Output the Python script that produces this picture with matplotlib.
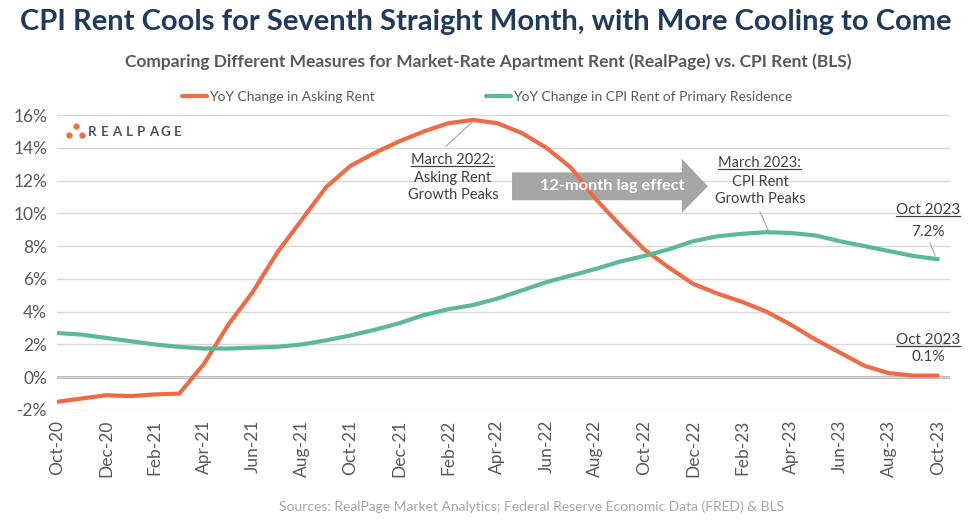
import matplotlib

matplotlib.use("Agg")
import matplotlib.pyplot as plt
from matplotlib.lines import Line2D
from matplotlib.patches import Polygon

plt.rcParams["font.family"] = ["Lato", "DejaVu Sans"]

# monthly data, Oct-2020 .. Oct-2023
months = [
    "Oct-20", "Nov-20", "Dec-20", "Jan-21", "Feb-21", "Mar-21", "Apr-21", "May-21",
    "Jun-21", "Jul-21", "Aug-21", "Sep-21", "Oct-21", "Nov-21", "Dec-21", "Jan-22",
    "Feb-22", "Mar-22", "Apr-22", "May-22", "Jun-22", "Jul-22", "Aug-22", "Sep-22",
    "Oct-22", "Nov-22", "Dec-22", "Jan-23", "Feb-23", "Mar-23", "Apr-23", "May-23",
    "Jun-23", "Jul-23", "Aug-23", "Sep-23", "Oct-23",
]
asking_rent = [
    -1.5, -1.3, -1.1, -1.15, -1.05, -1.0, 0.8, 3.2, 5.2, 7.6, 9.6, 11.6, 12.9,
    13.7, 14.4, 15.0, 15.5, 15.7, 15.5, 14.9, 14.0, 12.8, 10.9, 9.3, 7.8, 6.7,
    5.7, 5.1, 4.6, 4.0, 3.2, 2.3, 1.5, 0.7, 0.25, 0.1, 0.1,
]
cpi_rent = [
    2.7, 2.6, 2.4, 2.2, 2.0, 1.85, 1.75, 1.75, 1.8, 1.85, 2.0, 2.25, 2.55, 2.9,
    3.3, 3.8, 4.15, 4.4, 4.8, 5.3, 5.8, 6.2, 6.6, 7.05, 7.4, 7.8, 8.3, 8.6, 8.75,
    8.85, 8.8, 8.65, 8.3, 8.0, 7.7, 7.4, 7.2,
]
y_ticks = [-2, 0, 2, 4, 6, 8, 10, 12, 14, 16]

ORANGE = "#ef6b45"
GREEN = "#5cb998"
NAVY = "#1f3a5c"
GRAY_TEXT = "#595959"
ANNOT = "#404040"

fig = plt.figure(figsize=(9.77, 5.25), dpi=100)
ax = fig.add_axes([57 / 977, 1 - 410 / 525, (950 - 57) / 977, (410 - 115) / 525])

x = list(range(len(months)))
ax.plot(x, asking_rent, color=ORANGE, lw=3.0, solid_joinstyle="round", solid_capstyle="round",
        label="YoY Change in Asking Rent", zorder=4)
ax.plot(x, cpi_rent, color=GREEN, lw=3.0, solid_joinstyle="round", solid_capstyle="round",
        label="YoY Change in CPI Rent of Primary Residence", zorder=4)

ax.set_xlim(0, len(months) - 0.5)
ax.set_ylim(-2, 16)
ax.set_yticks(y_ticks)
ax.set_yticklabels([f"{v}%" for v in y_ticks])
ax.set_xticks(x[::2])
ax.set_xticklabels(months[::2], rotation=90)
ax.tick_params(length=0, labelsize=12.5, labelcolor=GRAY_TEXT)
ax.tick_params(axis="y", pad=7)
ax.tick_params(axis="x", pad=7)
for s in ax.spines.values():
    s.set_visible(False)
ax.grid(axis="y", color="#d9d9d9", lw=1.0, zorder=0)
ax.axhline(0, color="#a0a0a0", lw=1.8, zorder=1)

# titles
fig.text(0.4975, 1 - 22 / 525, "CPI Rent Cools for Seventh Straight Month, with More Cooling to Come",
         ha="center", va="center", fontsize=21, fontweight="bold", color=NAVY)
fig.text(0.5, 1 - 62 / 525,
         "Comparing Different Measures for Market-Rate Apartment Rent (RealPage) vs. CPI Rent (BLS)",
         ha="center", va="center", fontsize=12.5, fontweight="bold", color=GRAY_TEXT)
fig.text(532 / 977, 1 - 507 / 525,
         "Sources: RealPage Market Analytics; Federal Reserve Economic Data (FRED) & BLS",
         ha="center", va="center", fontsize=10, color="#a6a6a6")

leg = fig.legend(loc="center", bbox_to_anchor=(487 / 977, 1 - 97 / 525), ncol=2, frameon=False,
                 fontsize=10, handlelength=1.8, handletextpad=0.15, columnspacing=8.0,
                 labelcolor=GRAY_TEXT)

# RealPage logo
for px, py in [(69, 135), (76, 126), (82, 135)]:
    fig.add_artist(Line2D([px / 977], [1 - py / 525], marker="o", ms=3.5, color=ORANGE, lw=0))
for i, ch in enumerate("REALPAGE"):
    fig.text((92 + i * 12.3) / 977, 1 - 132 / 525, ch, ha="center", va="center",
             fontsize=9.5, fontweight="bold", color="#44546a")

# annotations
texts_to_underline = []


def block(xc, y_lines, lines, size=10.5, underline_first=True):
    for i, (yy, line) in enumerate(zip(y_lines, lines)):
        t = ax.text(xc, yy, line, ha="center", va="center", fontsize=size, color=ANNOT, zorder=6)
        if i == 0 and underline_first:
            texts_to_underline.append(t)


block(16.18, [13.27, 12.17, 11.13], ["March 2022:", "Asking Rent", "Growth Peaks"])
ax.plot([17.0, 15.9], [15.6, 14.1], color="#a6a6a6", lw=0.8, zorder=5)

block(28.73, [13.09, 11.93, 10.89], ["March 2023:", "CPI Rent", "Growth Peaks"])
ax.plot([28.73, 29.06], [10.1, 9.0], color="#a6a6a6", lw=0.8, zorder=5)

block(35.6, [10.21, 8.87], ["Oct 2023", "7.2%"], size=11)
ax.plot([35.68, 35.9], [8.2, 7.4], color="#a6a6a6", lw=0.8, zorder=5)

block(35.6, [2.26, 1.22], ["Oct 2023", "0.1%"], size=11)

# lag arrow
arrow = Polygon(
    [(18.6, 12.5), (25.54, 12.5), (25.54, 13.33), (26.6, 11.65), (25.54, 10.03),
     (25.54, 10.8), (18.6, 10.8)],
    closed=True, facecolor="#a6a6a6", edgecolor="none", zorder=3,
)
ax.add_patch(arrow)
ax.text(22.7, 11.68, "12-month lag effect", ha="center", va="center", fontsize=11.8,
        fontweight="bold", color="white", zorder=6)

fig.canvas.draw()
renderer = fig.canvas.get_renderer()
inv = fig.transFigure.inverted()
for t in texts_to_underline:
    bb = t.get_window_extent(renderer)
    (x0, y0), (x1, _) = inv.transform([(bb.x0, bb.y0 + 1), (bb.x1, bb.y1)])
    fig.add_artist(Line2D([x0, x1], [y0, y0], color=ANNOT, lw=0.9))

fig.savefig("out.png", dpi=100)
